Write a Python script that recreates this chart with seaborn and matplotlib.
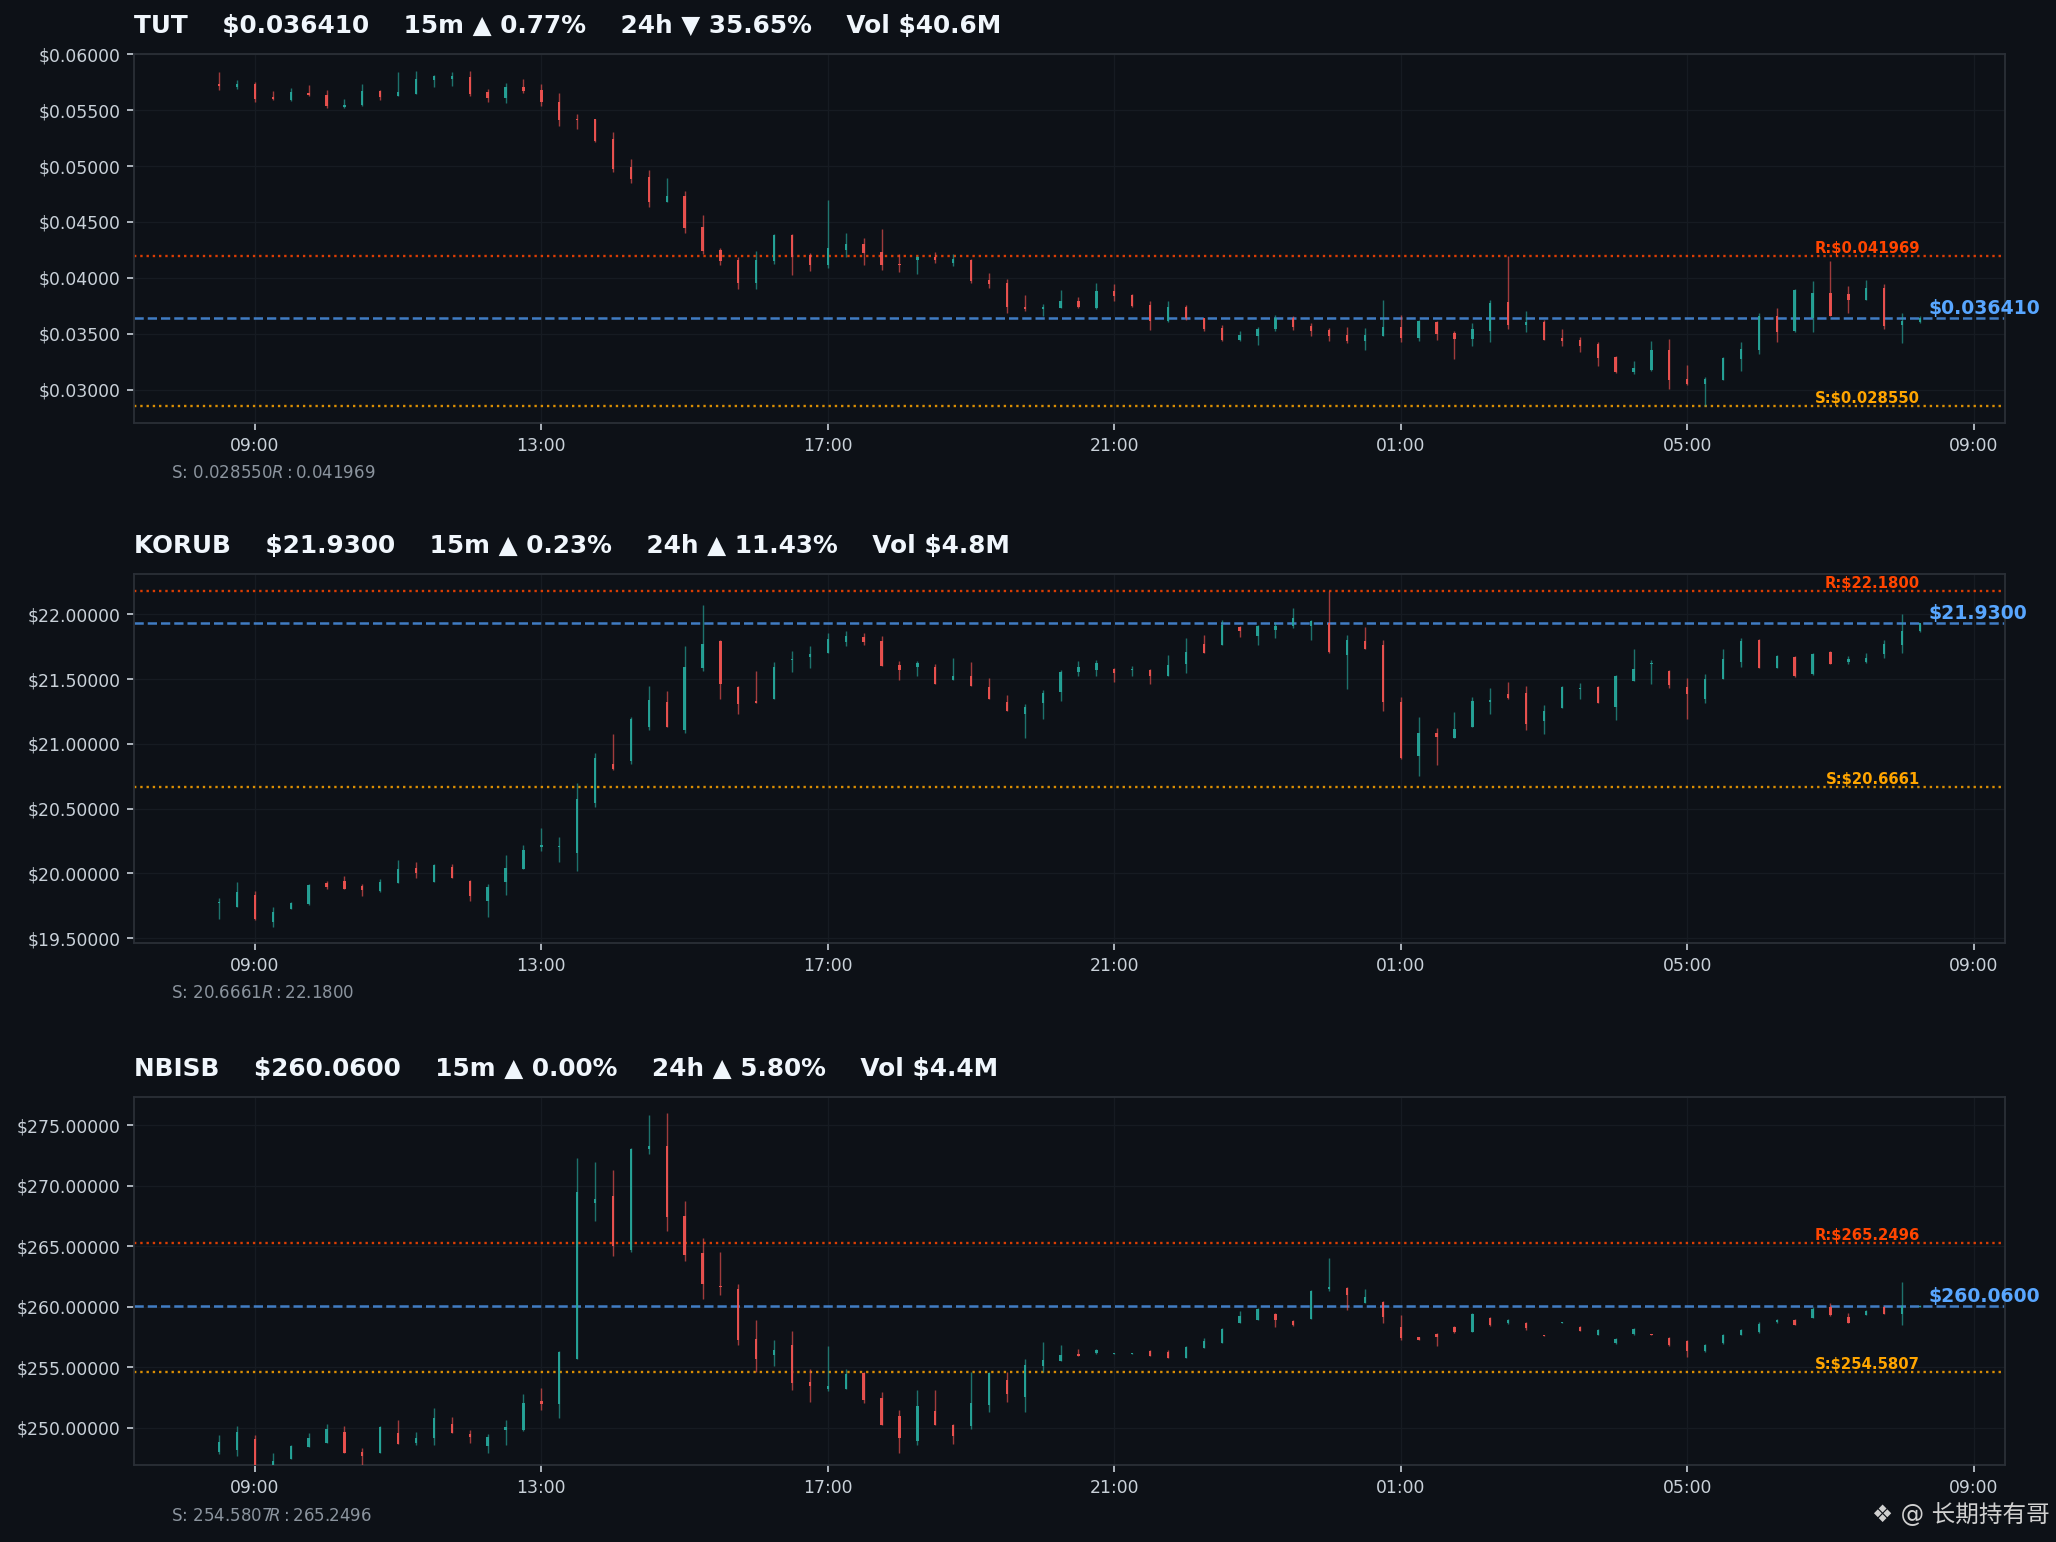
import numpy as np
import pandas as pd
import matplotlib
matplotlib.use("Agg")
import matplotlib.pyplot as plt
import matplotlib.dates as mdates
from matplotlib.ticker import MultipleLocator, FuncFormatter
import seaborn as sns

# ---------------- data ----------------
START = "2024-06-01 08:30"
N_BARS = 96
FREQ = "15min"

SYMBOLS = ["TUT", "KORUB", "NBISB"]
TITLES = [
    "TUT    \\$0.036410    15m ▲ 0.77%    24h ▼ 35.65%    Vol \\$40.6M",
    "KORUB    \\$21.9300    15m ▲ 0.23%    24h ▲ 11.43%    Vol \\$4.8M",
    "NBISB    \\$260.0600    15m ▲ 0.00%    24h ▲ 5.80%    Vol \\$4.4M",
]
PRICE = [0.036410, 21.9300, 260.0600]
RESIST = [0.041969, 22.1800, 265.2496]
SUPPORT = [0.028550, 20.6661, 254.5807]
DECIMALS = [6, 4, 4]
YSTEP = [0.005, 0.5, 5.0]
YLIMS = [(0.02705, 0.06003), (19.464, 22.309), (246.89, 277.34)]

TUT_OPEN = [0.057322, 0.057113, 0.057381, 0.056161, 0.055923, 0.056578, 0.056399, 0.055328, 0.055506, 0.056726,
            0.056250, 0.056488, 0.057738, 0.057798, 0.058006, 0.056607, 0.056131, 0.057113, 0.056845, 0.055774,
            0.054256, 0.054197, 0.052381, 0.049882, 0.048989, 0.046787, 0.047293, 0.044525, 0.042471, 0.041579,
            0.039525, 0.041519, 0.043811, 0.042085, 0.041162, 0.042471, 0.043007, 0.042293, 0.041251, 0.041579,
            0.041876, 0.041370, 0.041608, 0.039793, 0.039525, 0.037412, 0.037204, 0.037323, 0.037918, 0.037323,
            0.038811, 0.038454, 0.037561, 0.036162, 0.037382, 0.036371, 0.035508, 0.034466, 0.034823, 0.035388,
            0.036371, 0.035716, 0.035359, 0.034912, 0.034377, 0.034823, 0.035627, 0.034644, 0.036073, 0.035091,
            0.034555, 0.035269, 0.037829, 0.035805, 0.036073, 0.034585, 0.034466, 0.034109, 0.032948, 0.031609,
            0.031788, 0.033573, 0.030984, 0.030538, 0.030895, 0.032770, 0.033573, 0.036609, 0.035269, 0.036430,
            0.038692, 0.038573, 0.038007, 0.039079, 0.035805, 0.036073]
TUT_HIGH = [0.058453, 0.057738, 0.057560, 0.056756, 0.057024, 0.057292, 0.056845, 0.056042, 0.057381, 0.056845,
            0.058453, 0.058542, 0.058185, 0.058453, 0.058542, 0.056935, 0.057470, 0.057828, 0.057381, 0.056578,
            0.054703, 0.054256, 0.053006, 0.050596, 0.049614, 0.048900, 0.047739, 0.045596, 0.042650, 0.041846,
            0.042382, 0.043900, 0.043900, 0.042204, 0.046935, 0.043989, 0.043543, 0.044346, 0.042114, 0.041936,
            0.042293, 0.042114, 0.041668, 0.040418, 0.039882, 0.038454, 0.037650, 0.038900, 0.038275, 0.039525,
            0.039436, 0.038543, 0.037918, 0.037918, 0.037561, 0.036430, 0.035775, 0.035240, 0.035597, 0.036668,
            0.036579, 0.035954, 0.035508, 0.035597, 0.035508, 0.038007, 0.036668, 0.036222, 0.036132, 0.035269,
            0.035954, 0.038007, 0.041969, 0.037025, 0.036222, 0.035418, 0.034734, 0.034287, 0.033037, 0.032591,
            0.034377, 0.034555, 0.032234, 0.031163, 0.032948, 0.034287, 0.036877, 0.037323, 0.038989, 0.039704,
            0.041489, 0.039257, 0.039793, 0.039436, 0.036877, 0.036549]
TUT_LOW = [0.056786, 0.056875, 0.055715, 0.055893, 0.055804, 0.056250, 0.055179, 0.055179, 0.055357, 0.055893,
           0.056250, 0.056429, 0.057113, 0.057203, 0.056250, 0.055715, 0.055625, 0.056518, 0.055357, 0.053572,
           0.053304, 0.052143, 0.049465, 0.048483, 0.046340, 0.046787, 0.044019, 0.042144, 0.041162, 0.039019,
           0.039019, 0.041251, 0.040269, 0.040626, 0.040894, 0.041906, 0.041162, 0.040716, 0.040537, 0.040358,
           0.041340, 0.041073, 0.039555, 0.039108, 0.036877, 0.037055, 0.036609, 0.037323, 0.037323, 0.037234,
           0.037948, 0.037412, 0.035359, 0.036073, 0.036252, 0.035269, 0.034377, 0.034377, 0.034020, 0.035269,
           0.035359, 0.034823, 0.034377, 0.034198, 0.033573, 0.034823, 0.034287, 0.034377, 0.034466, 0.032770,
           0.033930, 0.034287, 0.035448, 0.035180, 0.034466, 0.033930, 0.033395, 0.032145, 0.031520, 0.031430,
           0.031698, 0.030091, 0.030448, 0.028550, 0.030895, 0.031698, 0.033216, 0.034287, 0.035180, 0.035150,
           0.036609, 0.036877, 0.038007, 0.035448, 0.034198, 0.035984]
TUT_CLOSE = [0.057143, 0.057381, 0.056012, 0.055982, 0.056607, 0.056369, 0.055357, 0.055506, 0.056756, 0.056221,
             0.056667, 0.057798, 0.058036, 0.058095, 0.056488, 0.056072, 0.057113, 0.056756, 0.055715, 0.054167,
             0.054108, 0.052262, 0.049763, 0.048870, 0.046787, 0.047293, 0.044465, 0.042412, 0.041519, 0.039525,
             0.041579, 0.043811, 0.041876, 0.041162, 0.042650, 0.043007, 0.042233, 0.041162, 0.041162, 0.041846,
             0.041579, 0.041668, 0.039704, 0.039466, 0.037412, 0.037204, 0.037382, 0.037918, 0.037382, 0.038811,
             0.038364, 0.037472, 0.036162, 0.037382, 0.036371, 0.035448, 0.034466, 0.034912, 0.035448, 0.036371,
             0.035627, 0.035269, 0.034823, 0.034377, 0.034912, 0.035627, 0.034644, 0.036162, 0.035002, 0.034555,
             0.035418, 0.037710, 0.035805, 0.036073, 0.034466, 0.034377, 0.033930, 0.032859, 0.031609, 0.031966,
             0.033573, 0.030895, 0.030538, 0.030984, 0.032859, 0.033662, 0.036609, 0.035180, 0.038900, 0.038692,
             0.036609, 0.038007, 0.039079, 0.035716, 0.036162, 0.036410]

KORUB_OPEN = [19.770, 19.739, 19.837, 19.623, 19.729, 19.762, 19.930, 19.945, 19.906, 19.868,
              19.930, 20.045, 19.937, 20.053, 19.945, 19.791, 19.937, 20.038, 20.207, 20.202,
              20.161, 20.547, 20.848, 20.871, 21.133, 21.326, 21.110, 21.588, 21.797, 21.442,
              21.334, 21.349, 21.650, 21.673, 21.704, 21.789, 21.828, 21.797, 21.612, 21.596,
              21.596, 21.496, 21.527, 21.442, 21.326, 21.233, 21.318, 21.403, 21.558, 21.573,
              21.581, 21.568, 21.573, 21.527, 21.619, 21.774, 21.766, 21.905, 21.835, 21.882,
              21.913, 21.913, 21.933, 21.689, 21.797, 21.766, 21.326, 20.909, 21.087, 21.048,
              21.133, 21.326, 21.388, 21.395, 21.180, 21.280, 21.426, 21.442, 21.288, 21.488,
              21.619, 21.565, 21.442, 21.349, 21.504, 21.635, 21.805, 21.588, 21.673, 21.542,
              21.712, 21.635, 21.635, 21.697, 21.766, 21.874]
KORUB_HIGH = [19.814, 19.937, 19.868, 19.744, 19.783, 19.922, 19.945, 19.984, 19.922, 19.960,
              20.107, 20.092, 20.076, 20.076, 19.953, 19.922, 20.146, 20.223, 20.354, 20.284,
              20.701, 20.933, 21.079, 21.210, 21.450, 21.411, 21.758, 22.075, 21.805, 21.450,
              21.565, 21.635, 21.720, 21.758, 21.859, 21.874, 21.859, 21.835, 21.642, 21.642,
              21.619, 21.666, 21.635, 21.511, 21.380, 21.311, 21.419, 21.573, 21.642, 21.650,
              21.588, 21.604, 21.581, 21.689, 21.820, 21.843, 21.959, 21.913, 21.920, 21.943,
              22.051, 21.959, 22.180, 21.843, 21.905, 21.805, 21.365, 21.210, 21.126, 21.249,
              21.365, 21.434, 21.480, 21.450, 21.303, 21.450, 21.473, 21.450, 21.534, 21.735,
              21.650, 21.573, 21.511, 21.542, 21.735, 21.820, 21.812, 21.689, 21.681, 21.704,
              21.720, 21.681, 21.704, 21.805, 22.005, 21.928]
KORUB_LOW = [19.652, 19.739, 19.639, 19.585, 19.729, 19.755, 19.878, 19.878, 19.824, 19.860,
             19.930, 19.968, 19.937, 19.968, 19.791, 19.667, 19.837, 20.038, 20.176, 20.092,
             20.022, 20.516, 20.796, 20.848, 21.110, 21.133, 21.087, 21.565, 21.349, 21.233,
             21.318, 21.349, 21.558, 21.588, 21.704, 21.758, 21.766, 21.604, 21.496, 21.527,
             21.465, 21.496, 21.450, 21.349, 21.257, 21.048, 21.195, 21.334, 21.527, 21.527,
             21.480, 21.527, 21.465, 21.527, 21.550, 21.704, 21.766, 21.828, 21.766, 21.820,
             21.897, 21.805, 21.704, 21.426, 21.735, 21.257, 20.886, 20.755, 20.840, 21.048,
             21.133, 21.233, 21.349, 21.110, 21.079, 21.280, 21.349, 21.318, 21.187, 21.488,
             21.465, 21.434, 21.195, 21.318, 21.504, 21.596, 21.588, 21.588, 21.519, 21.534,
             21.619, 21.619, 21.627, 21.666, 21.704, 21.866]
KORUB_CLOSE = [19.775, 19.860, 19.652, 19.706, 19.775, 19.914, 19.896, 19.878, 19.870, 19.937,
               20.038, 20.007, 20.068, 19.968, 19.824, 19.899, 20.045, 20.184, 20.223, 20.207,
               20.578, 20.894, 20.809, 21.195, 21.342, 21.133, 21.596, 21.774, 21.465, 21.311,
               21.318, 21.596, 21.658, 21.697, 21.812, 21.835, 21.789, 21.604, 21.573, 21.627,
               21.465, 21.527, 21.450, 21.349, 21.257, 21.288, 21.395, 21.558, 21.596, 21.627,
               21.550, 21.576, 21.527, 21.612, 21.712, 21.704, 21.920, 21.874, 21.913, 21.913,
               21.974, 21.951, 21.712, 21.805, 21.735, 21.326, 20.894, 21.087, 21.056, 21.118,
               21.334, 21.342, 21.357, 21.156, 21.257, 21.442, 21.434, 21.318, 21.527, 21.581,
               21.627, 21.457, 21.388, 21.504, 21.658, 21.797, 21.588, 21.681, 21.527, 21.697,
               21.619, 21.658, 21.666, 21.774, 21.874, 21.930]

NBISB_OPEN = [247.99, 248.19, 249.07, 246.95, 247.44, 248.43, 248.76, 249.64, 248.02, 247.94,
              249.56, 248.76, 249.15, 250.31, 249.48, 248.52, 249.81, 249.81, 252.21, 251.96,
              255.67, 268.56, 269.14, 264.68, 273.02, 273.27, 267.48, 264.43, 261.70, 261.46,
              257.33, 256.00, 256.83, 253.77, 253.20, 253.20, 254.52, 252.45, 250.97, 248.93,
              251.38, 250.22, 250.17, 251.87, 253.94, 252.54, 255.10, 255.51, 256.09, 256.17,
              256.09, 256.11, 256.33, 256.25, 255.76, 256.58, 257.00, 258.65, 258.89, 259.39,
              258.81, 258.98, 261.46, 261.54, 260.30, 260.38, 258.32, 257.46, 257.74, 258.32,
              257.90, 259.06, 258.65, 258.65, 257.66, 258.67, 258.32, 257.66, 257.00, 257.74,
              257.74, 257.41, 257.16, 256.33, 257.00, 257.66, 257.90, 258.73, 258.89, 259.06,
              259.97, 259.14, 259.31, 259.97, 259.39, 260.00]
NBISB_HIGH = [249.40, 250.14, 249.40, 247.94, 248.60, 249.56, 250.31, 250.14, 248.35, 250.14,
              250.64, 249.64, 251.63, 250.88, 249.81, 249.48, 250.64, 252.78, 253.28, 256.33,
              272.27, 271.94, 271.28, 273.10, 275.83, 275.99, 268.72, 265.67, 264.51, 261.87,
              258.89, 257.24, 257.99, 254.85, 256.75, 254.85, 254.60, 252.95, 251.46, 253.11,
              253.11, 250.31, 254.60, 254.60, 254.60, 255.67, 257.08, 256.83, 256.50, 256.50,
              256.17, 256.17, 256.42, 256.42, 256.75, 257.41, 258.23, 259.64, 259.89, 259.47,
              258.89, 261.37, 264.02, 261.62, 261.46, 260.46, 259.31, 257.49, 257.82, 258.40,
              259.47, 259.14, 258.98, 258.73, 257.66, 258.73, 258.40, 258.15, 257.41, 258.23,
              257.74, 257.49, 257.24, 256.91, 257.74, 258.15, 258.73, 258.98, 258.98, 259.97,
              260.30, 259.47, 259.72, 260.05, 262.03, 260.13]
NBISB_LOW = [247.86, 247.69, 246.40, 246.60, 247.44, 248.43, 248.76, 247.94, 246.70, 247.94,
             248.68, 248.60, 248.60, 249.56, 248.76, 247.94, 248.60, 249.73, 251.46, 250.80,
             255.67, 267.07, 264.18, 264.51, 272.60, 266.25, 263.77, 260.63, 260.96, 256.83,
             254.60, 255.10, 253.11, 252.12, 253.03, 253.20, 252.04, 250.22, 247.94, 248.60,
             250.22, 248.68, 249.92, 251.30, 252.12, 251.30, 254.60, 255.51, 255.92, 256.09,
             256.09, 256.09, 255.92, 255.76, 255.76, 256.58, 257.00, 258.65, 258.89, 258.32,
             258.40, 258.98, 261.29, 259.72, 260.30, 258.65, 257.24, 257.24, 256.75, 257.82,
             257.90, 258.40, 258.56, 258.07, 257.60, 258.65, 257.99, 257.66, 256.91, 257.66,
             257.66, 256.75, 255.84, 256.25, 256.91, 257.66, 257.82, 258.65, 258.48, 259.06,
             259.23, 258.65, 259.31, 259.39, 258.48, 259.97]
NBISB_CLOSE = [248.82, 249.64, 246.90, 247.28, 248.52, 249.15, 249.89, 247.94, 247.69, 250.06,
               248.68, 249.15, 250.80, 249.56, 249.23, 249.23, 250.06, 252.04, 251.96, 256.25,
               269.47, 268.89, 265.01, 273.02, 273.27, 267.40, 264.26, 261.87, 261.62, 257.24,
               255.67, 256.42, 253.69, 253.44, 253.44, 254.44, 252.29, 250.22, 249.18, 251.79,
               250.22, 249.34, 252.04, 254.52, 252.78, 255.18, 255.59, 256.00, 255.92, 256.42,
               256.17, 256.17, 255.92, 255.76, 256.66, 257.16, 258.15, 259.23, 259.80, 258.89,
               258.48, 261.29, 261.62, 260.96, 260.79, 259.14, 257.41, 257.27, 257.49, 257.90,
               259.39, 258.48, 258.89, 258.23, 257.60, 258.73, 257.99, 258.07, 257.33, 258.15,
               257.68, 256.83, 256.33, 256.83, 257.66, 258.07, 258.56, 258.89, 258.48, 259.80,
               259.31, 258.65, 259.64, 259.39, 260.05, 260.06]

OHLC = [
    (TUT_OPEN, TUT_HIGH, TUT_LOW, TUT_CLOSE),
    (KORUB_OPEN, KORUB_HIGH, KORUB_LOW, KORUB_CLOSE),
    (NBISB_OPEN, NBISB_HIGH, NBISB_LOW, NBISB_CLOSE),
]
WATERMARK = "❖ @ 长期持有哥"

# ---------------- style ----------------
BG = "#0d1117"
SPINE = "#2a2f37"
GRID = "#161b22"
TICK = "#c9d1d9"
UP = "#26a69a"
DOWN = "#ef5350"
R_COL = "#ff4500"
S_COL = "#ffa500"
P_LINE = "#4a90e2"
P_TEXT = "#58a6ff"

sns.set_theme(style="dark", rc={
    "figure.facecolor": BG, "axes.facecolor": BG, "axes.edgecolor": SPINE,
    "text.color": "#f0f6fc", "xtick.color": TICK, "ytick.color": TICK,
    "axes.labelcolor": TICK, "grid.color": GRID,
})
plt.rcParams["font.family"] = ["DejaVu Sans", "Noto Sans CJK SC"]

fig = plt.figure(figsize=(20.56, 15.42), dpi=100)
fig.patch.set_facecolor(BG)

times = pd.date_range(START, periods=N_BARS, freq=FREQ)
xnum = mdates.date2num(times)
bar_w = 0.00135  # days
span = xnum[-1] - xnum[0]
xlim = (xnum[0] - 0.05 * span, xnum[-1] + 0.05 * span)

LEFT, WIDTH, HEIGHT = 0.0652, 0.9100, 0.2391
BOTTOMS = [0.7259, 0.3885, 0.0497]

for i in range(3):
    ax = fig.add_axes([LEFT, BOTTOMS[i], WIDTH, HEIGHT])
    ax.set_facecolor(BG)
    o, h, l, c = (np.asarray(a, dtype=float) for a in OHLC[i])
    up = c >= o
    cols = np.where(up, UP, DOWN)
    ylo, yhi = YLIMS[i]
    minh = (yhi - ylo) * 0.0025
    ax.vlines(xnum, l, h, colors=cols, linewidth=1.0, alpha=0.65, zorder=3)
    ax.bar(xnum, np.maximum(np.abs(c - o), minh), width=bar_w,
           bottom=np.minimum(o, c), color=cols, linewidth=0, alpha=0.95, zorder=4)

    d = DECIMALS[i]
    ax.axhline(RESIST[i], color=R_COL, linestyle=":", linewidth=1.7, alpha=0.85, zorder=2)
    ax.axhline(SUPPORT[i], color=S_COL, linestyle=":", linewidth=1.7, alpha=0.85, zorder=2)
    ax.axhline(PRICE[i], color=P_LINE, linestyle="--", linewidth=1.8, alpha=0.85, zorder=2)

    ax.text(xnum[-1], RESIST[i], f"R:${RESIST[i]:.{d}f}", color=R_COL, fontsize=10.7,
            fontweight="bold", ha="right", va="bottom", zorder=5)
    ax.text(xnum[-1], SUPPORT[i], f"S:${SUPPORT[i]:.{d}f}", color=S_COL, fontsize=10.7,
            fontweight="bold", ha="right", va="bottom", zorder=5)
    ax.text(xnum[-1] + 7 / 1440, PRICE[i], f"${PRICE[i]:.{d}f}", color=P_TEXT, fontsize=13.6,
            fontweight="bold", ha="left", va="bottom", clip_on=False, zorder=6)

    ax.set_xlim(*xlim)
    ax.set_ylim(ylo, yhi)
    ax.yaxis.set_major_locator(MultipleLocator(YSTEP[i]))
    ax.yaxis.set_major_formatter(FuncFormatter(lambda v, p: f"${v:.5f}"))
    ax.xaxis.set_major_locator(mdates.HourLocator(byhour=[1, 5, 9, 13, 17, 21]))
    ax.xaxis.set_major_formatter(mdates.DateFormatter("%H:%M"))
    ax.tick_params(axis="both", which="major", labelsize=12.4, colors=TICK,
                   bottom=True, left=True, length=5, width=1.2, pad=5)
    ax.grid(True, color=GRID, linewidth=0.9)
    for sp in ax.spines.values():
        sp.set_color(SPINE)
        sp.set_linewidth(1.3)
        sp.set_visible(True)

    ax.set_title(TITLES[i], loc="left", fontsize=17.8, fontweight="bold",
                 color="#f0f6fc", pad=15)
    ax.text(0.02, -0.136, f"S: ${SUPPORT[i]:.{d}f}  R: ${RESIST[i]:.{d}f}",
            transform=ax.transAxes, color="#8b949e", fontsize=12, ha="left", va="center")

fig.text(0.997, 0.0175, WATERMARK, color="#d0d0d0", fontsize=17, ha="right", va="center")

fig.savefig("out.png", dpi=100, facecolor=BG)
